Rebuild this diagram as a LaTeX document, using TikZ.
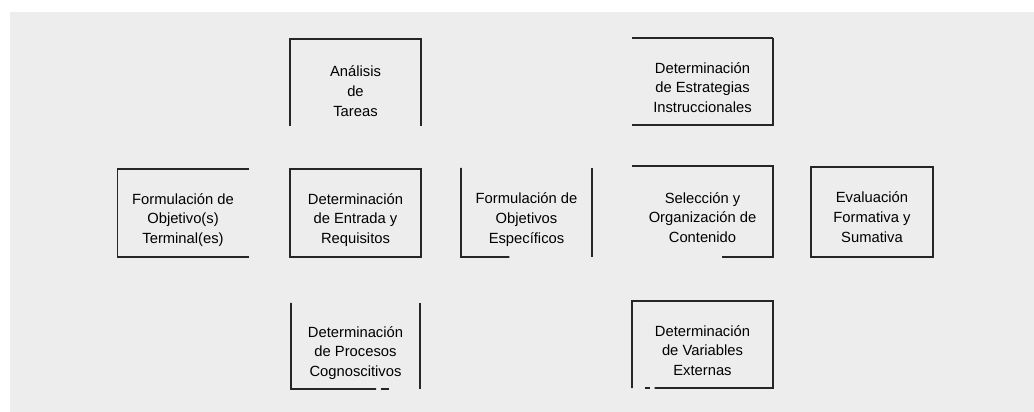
\documentclass[tikz,border=0pt]{standalone}
\usepackage{fontspec}
\setmainfont{Liberation Sans}
\usetikzlibrary{
    positioning,
    calc
}
\tikzset{
    % Colors
    paper color/.style={fill=black!7},
    edge color/.style={black!85},
    %
    % Boxes and texts (1px = 0.2mm)
    blk/.style={rectangle,inner sep=0pt,outer sep=0pt},
    wide blk/.style={blk,minimum width=28.2mm,minimum height=17.6mm},
    narrow blk/.style={blk,minimum width=26.2mm,minimum height=17.6mm},
    txt/.style={align=center,font=\fontsize{8.4}{11.2}\selectfont},
    %
    % Box edges
    edge/.style={edge color,line width=1.1pt},
    heavy edge/.style={edge color,line width=1.7pt}
}
\tikzstyle{every node}=[font=\footnotesize]

\begin{document}
\begin{tikzpicture}[x=0.2mm,y=-0.2mm]
        \useasboundingbox (0,0) rectangle (1034,412);
        \fill[paper color] (10,12) rectangle (1034,412);
        % left column
        \node[narrow blk] (terminal) at (183,213) {};
        \node[txt] (terminal text) at ([yshift=-1.4mm]terminal.center) {Formulación de\\Objetivo(s)\\Terminal(es)};
        \draw[edge] (terminal.north east) -- (terminal.north west) -- (terminal.south west) -- (terminal.south east);
        % second column
        \node[narrow blk,minimum height=17.4mm] (tareas) at (355.5,82.5) {};
        \node[txt] (tareas text) at ([yshift=-1.7mm]tareas.center) {Análisis\\de\\Tareas};
        \draw[edge] (tareas.south west) -- (tareas.north west) -- (tareas.north east) -- (tareas.south east);
        \node[narrow blk] (entrada) at (355.5,213) {};
        \node[txt] (entrada text) at ([yshift=-1.4mm]entrada.center) {Determinación\\de Entrada y\\Requisitos};
        \draw[edge] (entrada.north west) rectangle (entrada.south east);
        \node[narrow blk,minimum width=25.8mm,minimum height=17.2mm] (procesos) at (355.5,346) {};
        \node[txt] (procesos text) at ([yshift=-1.4mm]procesos.center) {Determinación\\de Procesos\\Cognoscitivos};
        \draw[edge] (procesos.north west) -- (procesos.south west) -- ($(procesos.south west)!.66!(procesos.south east)$);
        \draw[edge] ($(procesos.south west)!.7!(procesos.south east)$) -- ($(procesos.south west)!.76!(procesos.south east)$);
        \draw[edge] (procesos.north east) -- (procesos.south east);
        % middle
        \node[narrow blk,minimum height=17.8mm] (especificos) at (526.5,212.5) {};
        \node[txt] (especificos text) at ([yshift=-1.4mm]especificos.center) {Formulación de\\Objetivos\\Específicos};
        \draw[edge] (especificos.north west) -- (especificos.south west) -- ($(especificos.south west)!.37!(especificos.south east)$);
        \draw[heavy edge] (especificos.north east) -- (especificos.south east);
        % fourth column
        \node[wide blk,minimum height=17.4mm] (estrategias) at (702.5,81.5) {};
        \node[txt] (estrategias text) at ([yshift=-1.2mm]estrategias.center) {Determinación\\de Estrategias\\Instruccionales};
        \draw[heavy edge] (estrategias.north west) -- (estrategias.north east);
        \draw[edge] (estrategias.north east) -- (estrategias.south east) -- (estrategias.south west);
        \node[wide blk,minimum height=18.2mm] (contenido) at (702.5,211.5) {};
        \node[txt] (contenido text) at ([yshift=-1.2mm]contenido.center) {Selección y\\Organización de\\Contenido};
        \draw[edge] (contenido.north west) -- (contenido.north east) -- (contenido.south east) -- ($(contenido.south west)!.64!(contenido.south east)$);
        \node[wide blk,minimum height=17.4mm] (variables) at (702.5,344.5) {};
        \node[txt] (variables text) at ([yshift=-1.2mm]variables.center) {Determinación\\de Variables\\Externas};
        \draw[edge] ($(variables.south west)!.16!(variables.south east)$) -- (variables.south east) -- (variables.north east) -- (variables.north west) -- (variables.south west);
        \draw[edge] ($(variables.south west)!.09!(variables.south east)$) -- ($(variables.south west)!.13!(variables.south east)$);
        % right column
        \node[blk,minimum width=24.4mm,minimum height=18mm] (evaluacion) at (872,212) {};
        \node[txt] (evaluacion text) at ([yshift=-1mm]evaluacion.center) {Evaluación\\Formativa y\\Sumativa};
        \draw[edge] (evaluacion.north west) rectangle (evaluacion.south east);
    \end{tikzpicture}
\end{document}
